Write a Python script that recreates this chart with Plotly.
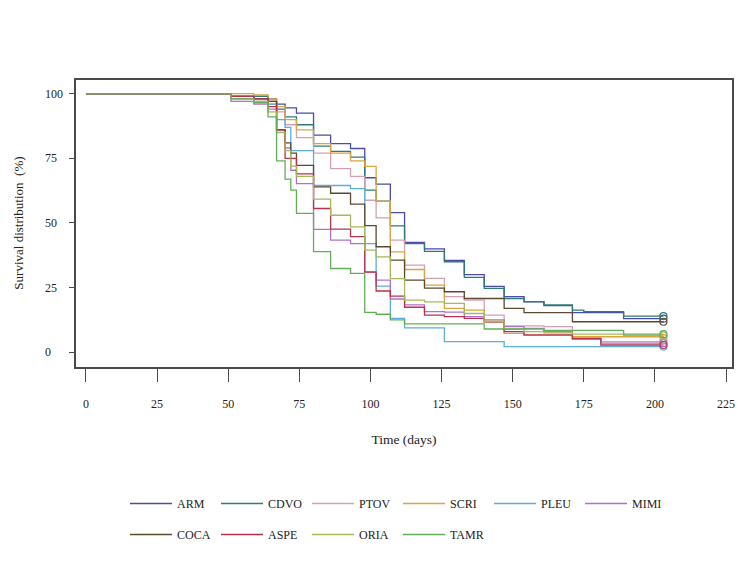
import plotly.graph_objects as go

# ---------------- data ----------------
names = ["ARM", "CDVO", "PTOV", "SCRI", "PLEU", "MIMI", "COCA", "ASPE", "ORIA", "TAMR"]

ARM_t = [0, 51, 64, 67, 70, 74, 80, 86, 93, 98, 102, 107, 112, 119, 126, 133, 140, 147, 154, 161, 171, 189, 203]
ARM_s = [100, 99, 98, 96, 94.5, 92.5, 84, 80.7, 78.8, 67.5, 65, 54, 42.5, 40, 35.5, 30, 25.5, 21.5, 19.5, 18, 15.3, 13, 13]

CDVO_t = [0, 51, 64, 67, 70, 74, 80, 86, 93, 98, 102, 107, 112, 119, 126, 133, 140, 147, 154, 161, 171, 175, 189, 203]
CDVO_s = [100, 99, 97, 94, 91, 88, 79.7, 77.7, 75.5, 62.7, 58.4, 48.9, 42, 39, 35, 29, 24.7, 20.8, 19.6, 18.3, 16.3, 15.7, 14, 14]

PTOV_t = [0, 51, 59, 64, 67, 70, 74, 80, 86, 93, 98, 102, 107, 112, 119, 126, 133, 140, 147, 161, 171, 181, 203]
PTOV_s = [100, 98, 97, 96, 93, 88, 83, 77, 71, 68, 58.8, 52, 43.4, 33.7, 28.6, 21.5, 20.2, 14.4, 10.2, 9.9, 5.4, 4.1, 4.1]

SCRI_t = [0, 59, 64, 67, 70, 74, 80, 86, 93, 98, 102, 107, 112, 119, 126, 133, 140, 147, 154, 171, 203]
SCRI_s = [100, 99.5, 98, 95, 90, 86, 80.7, 77, 74, 71.9, 58.4, 38.8, 32, 26, 17, 16.3, 11.8, 7.3, 6.5, 6, 5.5]

PLEU_t = [0, 51, 59, 64, 67, 70, 72, 80, 93, 98, 102, 107, 112, 126, 147, 203]
PLEU_s = [100, 99, 98, 96, 90, 87, 78, 64.5, 63.3, 42, 25.6, 13.1, 9.4, 4.1, 2.2, 2.2]

MIMI_t = [0, 51, 59, 64, 67, 70, 72, 74, 80, 86, 93, 98, 102, 107, 112, 119, 126, 133, 140, 147, 154, 161, 171, 181, 203]
MIMI_s = [100, 97, 96, 94, 86, 79, 70.4, 65.2, 47.5, 43.4, 42, 31.1, 27.9, 20.6, 18.3, 15.7, 15.5, 13.8, 12.5, 9.9, 9.2, 8, 5, 3.5, 3.5]

COCA_t = [0, 51, 59, 64, 67, 70, 72, 74, 80, 86, 93, 98, 102, 107, 112, 119, 126, 133, 147, 154, 171, 203]
COCA_s = [100, 99, 98, 97, 86, 81, 77, 72.3, 64, 61.5, 57.3, 49, 40.8, 35.6, 27.9, 24.8, 23.4, 20.8, 17, 15.3, 11.8, 11.8]

ASPE_t = [0, 51, 59, 64, 67, 70, 74, 80, 86, 93, 98, 102, 107, 112, 119, 126, 133, 140, 147, 154, 171, 181, 203]
ASPE_s = [100, 99, 98, 95, 86, 75, 69, 55.6, 47.6, 44.7, 31, 23.7, 21.7, 17.4, 14.4, 13.8, 13.1, 11.8, 8, 6.7, 5.4, 2.8, 2.8]

ORIA_t = [0, 51, 59, 64, 67, 70, 72, 74, 80, 86, 93, 98, 102, 107, 112, 119, 126, 133, 140, 147, 154, 161, 171, 189, 203]
ORIA_s = [100, 98, 97, 93, 85, 78, 72, 68, 59.2, 53, 48.5, 39.5, 36.9, 28.5, 20.2, 19.5, 18.9, 15, 12, 9, 8, 7.5, 7, 6.5, 6.5]

TAMR_t = [0, 51, 59, 64, 67, 70, 72, 74, 80, 86, 93, 98, 102, 107, 112, 140, 161, 189, 203]
TAMR_s = [100, 98, 96.5, 91, 74, 67, 62.7, 53.7, 38.9, 32.4, 30.5, 15.4, 14.7, 12.5, 11, 9, 8.5, 7, 7]

colors = ["#4B4BA8", "#2E7B73", "#D4A0B8", "#D9A441", "#5AADDC",
          "#B070D0", "#5C4A2E", "#B8324E", "#A8B858", "#62AE58"]

x_ticks = [0, 25, 50, 75, 100, 125, 150, 175, 200, 225]
y_ticks = [0, 25, 50, 75, 100]

series = {
    "ARM": (ARM_t, ARM_s), "CDVO": (CDVO_t, CDVO_s), "PTOV": (PTOV_t, PTOV_s),
    "SCRI": (SCRI_t, SCRI_s), "PLEU": (PLEU_t, PLEU_s), "MIMI": (MIMI_t, MIMI_s),
    "COCA": (COCA_t, COCA_s), "ASPE": (ASPE_t, ASPE_s), "ORIA": (ORIA_t, ORIA_s),
    "TAMR": (TAMR_t, TAMR_s),
}

FONT = "Liberation Serif, Times New Roman, serif"

# page body has an 8px margin; figure is sized/positioned to compensate
W, H = 739, 553
ML, MR, MT, MB = 68, 13, 72, 194
PW = W - ML - MR

fig = go.Figure()
for i, name in enumerate(names):
    t, s = series[name]
    fig.add_trace(go.Scatter(
        x=t, y=s, mode="lines", name=name,
        line=dict(color=colors[i], width=1.3, shape="hv"),
        legend="legend" if i < 6 else "legend2",
    ))
for i, name in enumerate(names):
    t, s = series[name]
    fig.add_trace(go.Scatter(
        x=[t[-1]], y=[s[-1]], mode="markers", showlegend=False,
        marker=dict(symbol="circle-open", size=7, color=colors[i], line=dict(width=1.2)),
    ))

axis_common = dict(showgrid=False, zeroline=False, showline=True, mirror=True,
                   linecolor="#4a4a4a", linewidth=1.5, ticks="outside",
                   tickcolor="#4a4a4a", tickwidth=1.2)

fig.update_layout(
    width=W, height=H,
    margin=dict(l=ML, r=MR, t=MT, b=MB),
    paper_bgcolor="white", plot_bgcolor="white",
    font=dict(family=FONT, size=12, color="#222222"),
    xaxis=dict(range=[-3.5, 227.1], tickvals=x_ticks, ticklen=13,
               ticklabelstandoff=12,
               title=dict(text="Time (days)", font=dict(size=13.5), standoff=24),
               **axis_common),
    yaxis=dict(range=[-5.7, 105.3], tickvals=y_ticks, ticklen=5,
               showticklabels=False, **axis_common),
    legend=dict(orientation="h", x=117 / W, y=1 - 481 / H, xref="container", yref="container",
                xanchor="left", yanchor="top", itemwidth=42, entrywidth=34,
                font=dict(size=12), bgcolor="rgba(0,0,0,0)"),
    legend2=dict(orientation="h", x=117 / W, y=1 - 512 / H, xref="container", yref="container",
                 xanchor="left", yanchor="top", itemwidth=42, entrywidth=34,
                 font=dict(size=12), bgcolor="rgba(0,0,0,0)"),
)

# y tick labels (left aligned, as in the reference)
for v in y_ticks:
    fig.add_annotation(x=(35 - ML) / PW, xref="paper", y=v, yref="y", text=str(v),
                       showarrow=False, xanchor="left", yanchor="middle",
                       font=dict(size=12, family=FONT))

fig.add_annotation(x=(10 - ML) / PW, xref="paper", y=0.5, yref="y domain",
                   text="Survival distribution  (%)", textangle=-90, showarrow=False,
                   xanchor="center", yanchor="middle", font=dict(size=13, family=FONT))

fig.write_html("out.html")
